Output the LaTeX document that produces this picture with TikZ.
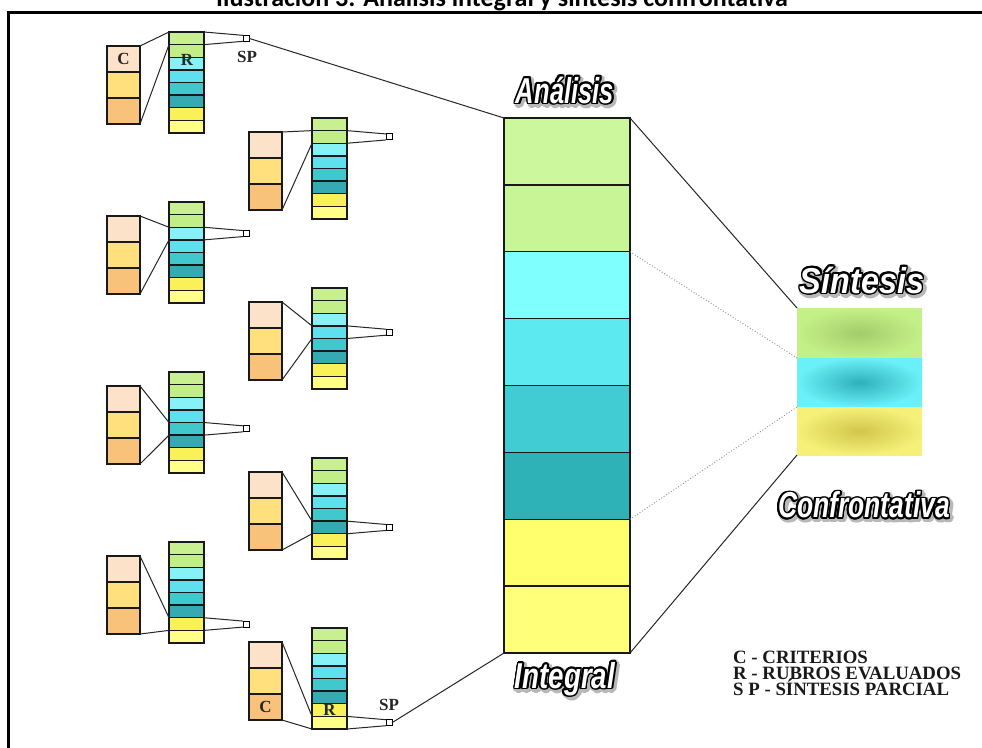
\documentclass[tikz,border=0pt]{standalone}
\usepackage{fontspec}
\setmainfont{Liberation Serif}
\newfontfamily\titlefont{Carlito}
\newfontfamily\fancyfont{Liberation Sans}
\usetikzlibrary{calc}
\definecolor{cA}{HTML}{FCE2C8}
\definecolor{cB}{HTML}{FFE07C}
\definecolor{cC}{HTML}{F8C27A}
\definecolor{r1}{HTML}{C8F090}
\definecolor{r2}{HTML}{C2EE88}
\definecolor{r3}{HTML}{86F2F8}
\definecolor{r4}{HTML}{5EE0EE}
\definecolor{r5}{HTML}{40C8CC}
\definecolor{r6}{HTML}{36AAB2}
\definecolor{r7}{HTML}{F8F258}
\definecolor{r8}{HTML}{FFFF88}
\definecolor{a1}{HTML}{CCF79C}
\definecolor{a2}{HTML}{C8F596}
\definecolor{a3}{HTML}{80FFFF}
\definecolor{a4}{HTML}{5CEAF0}
\definecolor{a5}{HTML}{40CCD2}
\definecolor{a6}{HTML}{2EB2B8}
\definecolor{a7}{HTML}{FFFF6E}
\definecolor{a8}{HTML}{FFFF7A}
\definecolor{sg}{HTML}{C4F088}
\definecolor{sgd}{HTML}{A2CC6A}
\definecolor{sc}{HTML}{6AF0F8}
\definecolor{scd}{HTML}{2EB0BA}
\definecolor{sy}{HTML}{F6F078}
\definecolor{syd}{HTML}{D0C64A}
\tikzset{
  cellbox/.style={draw=black!90, line width=1.3pt, inner sep=0pt, outer sep=0pt, anchor=north west},
  link/.style={draw=black!85, line width=1pt},
  dotlink/.style={draw=black!45, line width=0.9pt, dotted},
  lbl/.style={font=\bfseries\fontsize{17}{17}\selectfont, text=black!85, inner sep=0pt},
  legend/.style={font=\bfseries\fontsize{18.8}{18.8}\selectfont, text=black!90, anchor=base west, inner sep=0pt},
  fancy/.style={font=\fancyfont\bfseries\itshape\fontsize{36}{36}\selectfont, inner sep=0pt},
  spbox/.style={draw=black, line width=1pt, fill=white, minimum size=6pt, inner sep=0pt, outer sep=0pt},
  sband/.style={anchor=north west, inner sep=0pt, outer sep=0pt, minimum width=125pt},
}
\newcommand\evalgroup[5]{%
  \foreach \i/\c in {0/cA,1/cB,2/cC}
    \node[cellbox, fill=\c, minimum width=33pt, minimum height=26pt] (C#1-\i) at (#2, #4+14+26*\i) {};
  \foreach \i/\c in {1/r1,2/r2,3/r3,4/r4,5/r5,6/r6,7/r7,8/r8}
    \node[cellbox, fill=\c, minimum width=35pt, minimum height=12.625pt] (R#1-\i) at (#3, #4+12.625*\i-12.625) {};
  \node[spbox] (SP#1) at (#3+35+39+3, #4+12.625*#5-6.3) {};
  \draw[link] (C#1-0.north east) -- (R#1-#5.north west);
  \draw[link] (C#1-2.south east) -- (R#1-#5.south west);
  \draw[link] (R#1-#5.north east) -- (SP#1.north west);
  \draw[link] (R#1-#5.south east) -- (SP#1.south west);
}
\newcommand\outlinedlabel[5]{%
  \foreach \a in {0,30,...,330}
    \node[fancy, text=black!28] (#1-s\a) at ($(#2,#3)+(\a:3.2)+(1.8,1.8)$) {\scalebox{#4}[1]{#5}};
  \foreach \a in {0,20,...,340}
    \node[fancy, text=black] (#1-o\a) at ($(#2,#3)+(\a:1.7)$) {\scalebox{#4}[1]{#5}};
  \node[fancy, text=white] (#1) at (#2,#3) {\scalebox{#4}[1]{#5}};
}
\begin{document}
\begin{tikzpicture}[x=1pt, y=-1pt]
\useasboundingbox (0,0) rectangle (982,747);
\fill[white] (0,0) rectangle (982,747);
% title and frame
\node[font=\titlefont\bfseries\fontsize{26}{26}\selectfont, anchor=base, inner sep=0pt] (title) at (502,6) {Ilustración 3: Análisis integral y síntesis confrontativa};
\draw[line width=3.5pt] (8.7,12.7) rectangle (1000,770);
% groups
\evalgroup{1}{107}{169}{32}{1}
\evalgroup{2}{249}{312}{118}{2}
\evalgroup{3}{107}{169}{202}{3}
\evalgroup{4}{249}{312}{288}{4}
\evalgroup{5}{107}{169}{372}{5}
\evalgroup{6}{249}{312}{458}{6}
\evalgroup{7}{107}{169}{542}{7}
\evalgroup{8}{249}{312}{628}{8}
% labels
\node[lbl] (lc1) at (C1-0) {C};
\node[lbl] (lr1) at (187,60) {R};
\node[lbl] (lsp1) at (247,57) {SP};
\node[lbl] (lc8) at (C8-2) {C};
\node[lbl] (lr8) at (R8-7) {R};
\node[lbl] (lsp8) at (389,705) {SP};
% analysis column
\foreach \i/\c in {1/a1,2/a2,3/a3,4/a4,5/a5,6/a6,7/a7,8/a8}
  \node[cellbox, fill=\c, minimum width=126pt, minimum height=66.875pt] (A\i) at (504, 118+66.875*\i-66.875) {};
% synthesis bands
\node[sband, minimum height=50pt, inner color=sgd, outer color=sg] (S1) at (797,308) {};
\node[sband, minimum height=49pt, inner color=scd, outer color=sc] (S2) at (797,358) {};
\node[sband, minimum height=48pt, inner color=syd, outer color=sy] (S3) at (797,407) {};
% connectors
\draw[link] (SP1.east) -- (A1.north west);
\draw[link] (SP8.east) -- (A8.south west);
\draw[link] (A1.north east) -- (S1.north west);
\draw[dotlink] (A3.north east) -- (S2.north west);
\draw[dotlink] (A6.south east) -- (S3.north west);
\draw[link] (A8.south east) -- (S3.south west);
% fancy labels
\outlinedlabel{tan}{565}{90}{0.71}{Análisis}
\outlinedlabel{tint}{565}{679}{0.77}{Integral}
\outlinedlabel{tsin}{862}{280}{0.9}{Síntesis}
\outlinedlabel{tcon}{864}{505}{0.735}{Confrontativa}
% legend
\node[legend] (leg1) at (733,663) {C - CRITERIOS};
\node[legend] (leg2) at (733,679) {R - RUBROS EVALUADOS};
\node[legend] (leg3) at (733,695) {S P - SÍNTESIS PARCIAL};
\end{tikzpicture}
\end{document}
